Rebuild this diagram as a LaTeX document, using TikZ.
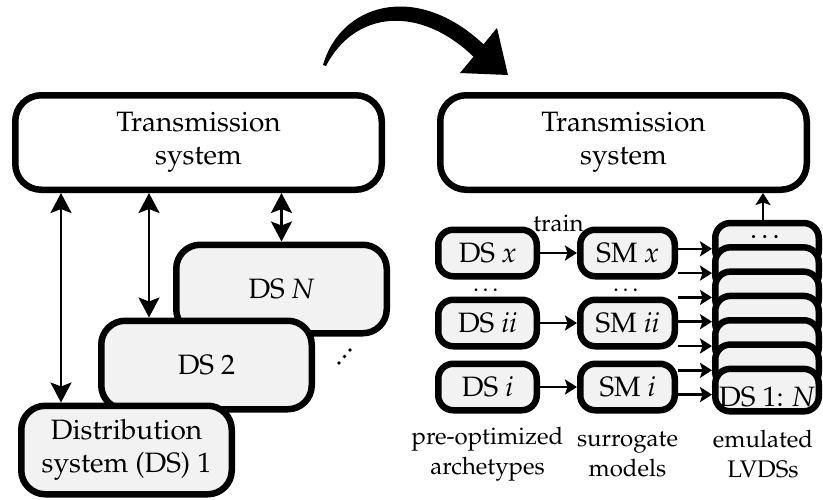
\documentclass[tikz,border=0pt]{standalone}
\usepackage[T1]{fontenc}
\usepackage{mathpazo}
\usepackage{tikz}
\usetikzlibrary{
  arrows.meta,
  positioning
}
\definecolor{boxgray}{HTML}{F2F2F2}
\tikzset{
  system/.style={
    draw=black,
    line width=6.5pt,
    rounded corners=26pt,
    fill=white,
    minimum width=366.5pt,
    minimum height=94.5pt,
    align=center,
    font=\fontsize{28}{33}\selectfont
  },
  feeder/.style={
    system,
    fill=boxgray,
    rounded corners=24pt,
    minimum width=210.5pt,
    minimum height=88.5pt
  },
  archetype/.style={
    feeder,
    rounded corners=15pt,
    minimum width=98.5pt,
    minimum height=46.5pt
  },
  surrogate/.style={archetype, minimum width=94.5pt},
  emulated/.style={
    archetype,
    minimum width=103.5pt,
    minimum height=42.5pt,
    inner sep=0pt
  },
  caption/.style={align=center, font=\fontsize{24}{30}\selectfont},
  link/.style={
    {Stealth[length=20pt,width=21pt,inset=4pt]}-{Stealth[length=20pt,width=21pt,inset=4pt]},
    line width=2.5pt
  },
  feed/.style={-{Stealth[length=12pt,width=15pt,inset=2.5pt]}, line width=2.5pt}
}

\begin{document}
\begin{tikzpicture}[x=1pt, y=-1pt]
  \useasboundingbox (0,0) rectangle (823,499);

  % today: one transmission system coupled to every feeder
  \node[system] (tsl) at (198.5,142.5) {Transmission\\system};
  \node[feeder] (dsn) at (281.5,289) {DS \textit{N}};
  \node[feeder] (dstwo) at (206.5,365) {DS 2};
  \node[feeder] (dsone) at (126.5,450) {Distribution\\system (DS) 1};
  \foreach \i in {0,1,2}
    \fill (339+5.5*\i, 363-6.5*\i) circle (1.8pt);

  \coordinate (a1) at ([xshift=-65.5pt]dsone.north);
  \coordinate (a2) at ([xshift=-57.5pt]dstwo.north);
  \draw[link] (a1) -- (a1 |- tsl.south);
  \draw[link] (a2) -- (a2 |- tsl.south);
  \draw[link] (dsn.north) -- (dsn.north |- tsl.south);

  % big bent arrow between both halves
  \fill (323,65) .. controls (340,5) and (415,-20) .. (483.5,44.3)
    -- (497,28) -- (508,75) -- (460,73) -- (473.5,56.7)
    .. controls (420,5) and (355,10) .. (326,66) -- cycle;

  % proposed: archetypes -> surrogate models -> emulated feeders
  \node[system] (tsr) at (623.5,142.5) {Transmission\\system};
  \node[archetype] (dsx) at (487.5,253) {DS \textit{x}};
  \node[archetype] (dsii) at (487.5,323) {DS \textit{ii}};
  \node[archetype] (dsi) at (487.5,387) {DS \textit{i}};
  \node[surrogate, right=37pt of dsx] (smx) {SM \textit{x}};
  \node[surrogate, right=37pt of dsii] (smii) {SM \textit{ii}};
  \node[surrogate, right=37pt of dsi] (smi) {SM \textit{i}};
  \node[caption] at (487.5,290) {\dots};
  \node[caption] at (627.5,290) {\dots};

  \draw[feed] (dsx) -- node[caption, above=17pt]{train} (smx);
  \draw[feed] (dsii) -- (smii);
  \draw[feed] (dsi) -- (smi);

  \foreach \k/\txt in {1/\smash{\raisebox{6pt}{\dots}}, 2/, 3/, 4/, 5/, 6/,
                       7/\smash{\raisebox{-16pt}{DS 1: \textit{N}}}}
    \node[emulated] (em\k) at (767, 220+24.3*\k) {\txt};

  \foreach \k/\src in {1/smx, 2/smx, 3/smii, 4/smii, 5/smii, 6/smi, 7/smi}{
    \coordinate (tip\k) at ([yshift=-4.5pt]em\k.west);
    \draw[feed] (tip\k -| \src.east) -- (tip\k);
  }
  \coordinate (up) at ([xshift=-4pt]em1.north);
  \draw[feed] (up) -- (up |- tsr.south);

  \node[caption] at (487.5,454) {pre-optimized\\archetypes};
  \node[caption] at (627.5,454) {surrogate\\models};
  \node[caption] at (763,454) {emulated\\LVDSs};
\end{tikzpicture}
\end{document}
